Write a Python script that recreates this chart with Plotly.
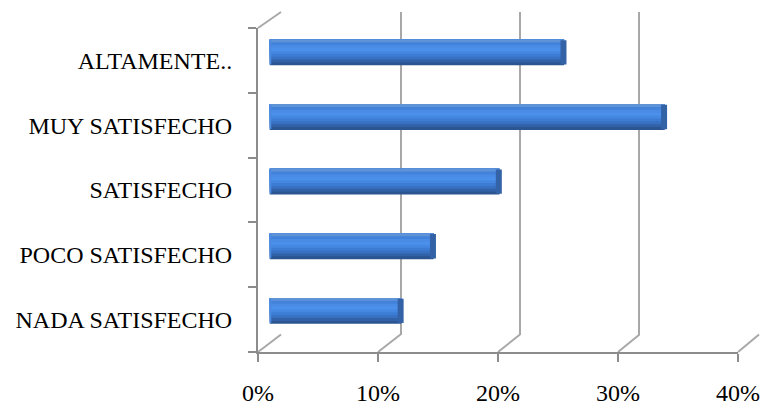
import plotly.graph_objects as go

# ---- data ----
categories = ["NADA SATISFECHO", "POCO SATISFECHO", "SATISFECHO", "MUY SATISFECHO", "ALTAMENTE.."]
values = [0.110, 0.137, 0.192, 0.330, 0.246]
x_ticks = [0, 0.1, 0.2, 0.3, 0.4]

W, H = 769, 410
def px(x): return x / W
def py(y): return 1 - y / H

# front plane, back wall, and mid depth (pixel geometry)
FX0, FX1, FYT, FYB = 258, 738, 28, 352
BX0, BX1, BYT, BYB = 281, 759, 12, 334.5
MX0, MX1 = (FX0 + BX0) / 2, (FX1 + BX1) / 2
MYT, MYB = (FYT + BYT) / 2, (FYB + BYB) / 2

XR = [0, 0.4]
ypos = list(range(len(categories)))

fig = go.Figure()

fig.add_trace(go.Scatter(x=[0, 0.4], y=[0, 0], mode="markers", marker=dict(opacity=0),
                         hoverinfo="skip", showlegend=False, xaxis="x", yaxis="y"))
fig.add_trace(go.Scatter(x=[0, 0.4], y=[0, 0], mode="markers", marker=dict(opacity=0),
                         hoverinfo="skip", showlegend=False, xaxis="x2", yaxis="y2"))

# cylinder shading: layers drawn bottom -> top, each reaching the top edge
stripe_colors = ["#2b5490", "#3162a8", "#3870c2", "#3d7cd4", "#4488e2", "#4b91ec", "#4a8be6", "#4282da", "#5f93d8"]
BH = 0.40
n = len(stripe_colors)
sw = BH / n
for i, c in enumerate(stripe_colors):
    fig.add_trace(go.Bar(x=values, y=ypos, orientation="h", base=0,
                         width=BH - i * sw, offset=-BH / 2 + i * sw,
                         marker=dict(color=c, line=dict(width=0)),
                         hoverinfo="skip", showlegend=False, xaxis="x3", yaxis="y3"))
# end caps
cap = 0.005
fig.add_trace(go.Bar(x=[cap] * len(values), y=ypos, orientation="h",
                     base=[v - cap * 0.6 for v in values],
                     width=BH * 0.94, offset=-BH * 0.47,
                     marker=dict(color="#3462a6", line=dict(width=0)),
                     hoverinfo="skip", showlegend=False, xaxis="x3", yaxis="y3"))
fig.add_trace(go.Bar(x=[cap * 0.8] * len(values), y=ypos, orientation="h",
                     base=[-cap * 0.5] * len(values),
                     width=BH * 0.94, offset=-BH * 0.47,
                     marker=dict(color="#4a8ae0", line=dict(width=0)),
                     hoverinfo="skip", showlegend=False, xaxis="x3", yaxis="y3"))

axis_col = "#8c8c8c"
grid_col = "#a8a8a8"
font = dict(family="Liberation Serif, Times New Roman, serif", size=24, color="black")

shapes = []
for t in x_ticks:
    f = (t - XR[0]) / (XR[1] - XR[0])
    shapes.append(dict(type="line", xref="paper", yref="paper",
                       x0=px(FX0 + f * (FX1 - FX0)), y0=py(FYB),
                       x1=px(BX0 + f * (BX1 - BX0)), y1=py(BYB),
                       line=dict(color=grid_col, width=2), layer="below"))
shapes.append(dict(type="line", xref="paper", yref="paper",
                   x0=px(FX0), y0=py(FYT), x1=px(BX0), y1=py(BYT),
                   line=dict(color=grid_col, width=2), layer="below"))

hidden = dict(showticklabels=False, ticks="", showgrid=False, zeroline=False,
              showline=False, automargin=False)

fig.update_layout(
    width=W, height=H,
    margin=dict(l=0, r=0, t=0, b=0, autoexpand=False),
    paper_bgcolor="white", plot_bgcolor="rgba(0,0,0,0)",
    barmode="overlay",
    font=font,
    shapes=shapes,
    xaxis=dict(domain=[px(FX0), px(FX1)], range=XR, anchor="y", automargin=False,
               tickvals=x_ticks, tickformat=".0%", ticks="outside", ticklen=8,
               tickwidth=2, tickcolor=axis_col, showline=True, linecolor=axis_col,
               linewidth=2, showgrid=False, zeroline=False, ticklabelstandoff=10,
               tickfont=font),
    yaxis=dict(domain=[py(FYB), py(FYT)], range=[-0.5, len(categories) - 0.5], anchor="x",
               automargin=False,
               tickvals=ypos, ticktext=categories, ticks="", showline=True,
               linecolor=axis_col, linewidth=2, showgrid=False, zeroline=False,
               ticklabelstandoff=19, tickfont=font,
               minor=dict(tickvals=[i - 0.5 for i in range(len(categories) + 1)],
                          ticks="outside", ticklen=8, tickwidth=2, tickcolor=axis_col,
                          showgrid=False)),
    xaxis2=dict(domain=[px(BX0), px(BX1)], range=[XR[0] - 1e-4, XR[1] + 1e-4], anchor="y2",
                tickvals=x_ticks, showticklabels=False, ticks="", showgrid=True,
                gridcolor=grid_col, gridwidth=2, zeroline=False, showline=False,
                automargin=False),
    yaxis2=dict(domain=[py(BYB), py(BYT)], range=[0, 1], anchor="x2", **hidden),
    xaxis3=dict(domain=[px(MX0), px(MX1)], range=XR, anchor="y3", **hidden),
    yaxis3=dict(domain=[py(MYB), py(MYT)], range=[-0.5, len(categories) - 0.5], anchor="x3",
                **hidden),
)

fig.write_html("out.html")
